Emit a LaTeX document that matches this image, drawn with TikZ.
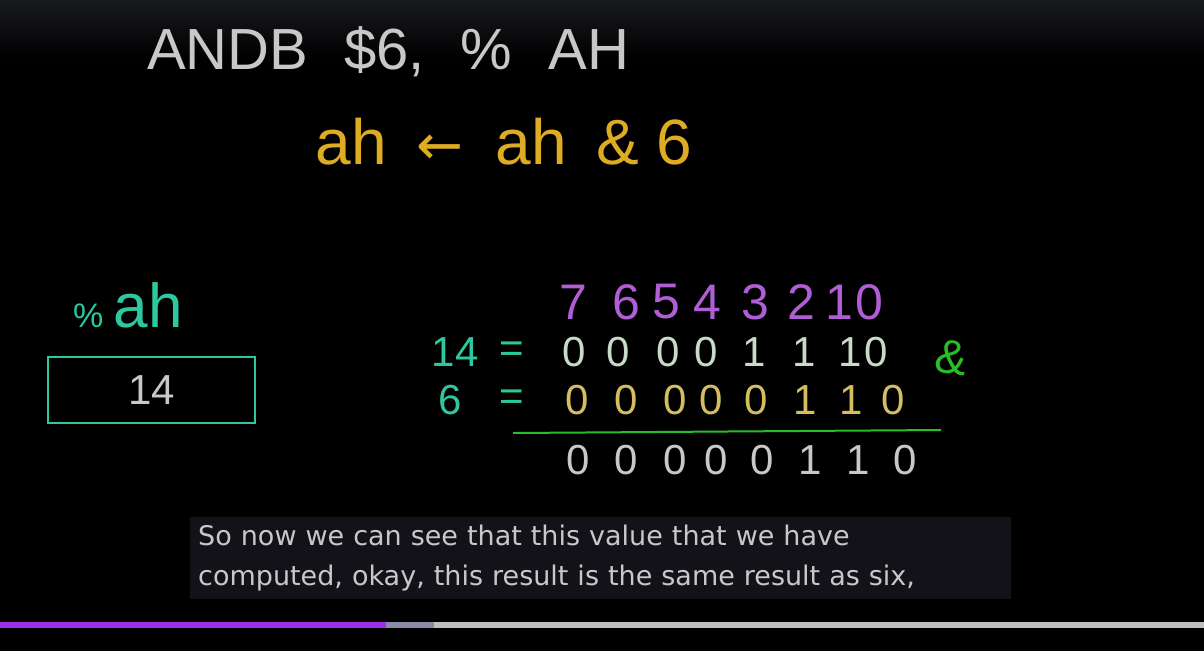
\documentclass[tikz,border=0pt]{standalone}
\usepackage{fontspec}
\setmainfont{DejaVu Sans}
\newfontfamily\handfont{Liberation Sans}
\newfontfamily\arrowfont{DejaVu Sans}
\definecolor{boardtop}{RGB}{24,25,30}
\definecolor{chalkwhite}{RGB}{200,200,200}
\definecolor{chalkyellow}{RGB}{222,172,34}
\definecolor{bityellow}{RGB}{214,190,96}
\definecolor{chalkteal}{RGB}{46,200,160}
\definecolor{chalkpurple}{RGB}{176,94,214}
\definecolor{chalkgreen}{RGB}{40,190,40}
\definecolor{bitgray}{RGB}{200,218,200}
\definecolor{capbg}{RGB}{18,18,24}
\definecolor{captext}{RGB}{200,200,200}
\definecolor{barpurple}{RGB}{155,48,232}
\definecolor{barslate}{RGB}{138,138,168}
\definecolor{barrest}{RGB}{190,190,190}
\usetikzlibrary{positioning}

\begin{document}
\begin{tikzpicture}[x=1pt, y=-1pt,
  hand/.style={inner sep=0pt, font=\handfont\fontsize{#1}{#1}\selectfont},
  bitidx/.style={hand=50, text=chalkpurple},
  bitrow/.style={hand=42, text=#1}
]
  % board
  \fill[black] (0,0) rectangle (1204,651);
  \shade[top color=boardtop, bottom color=black] (0,0) rectangle (1204,60);

  % instruction
  \node[hand=58, text=chalkwhite] (instr) at (388,52) {ANDB\hspace{36pt}\$6,\hspace{36pt}\%\hspace{36pt}AH};
  \node[hand=64, text=chalkyellow] (effect) at (504,142)
    {ah\hspace{30pt}{\arrowfont\fontsize{56}{56}\selectfont ←}\hspace{32pt}ah\hspace{30pt}\&\hspace{17pt}6};

  % register
  \node[hand=62, text=chalkteal] (regname) at (128,305) {{\fontsize{34}{34}\selectfont\%}\,ah};
  \node[draw=chalkteal, line width=2pt, minimum width=207, minimum height=66, inner sep=0pt,
        hand=42, text=chalkwhite] (regbox) at (151.5,390) {14};

  % bit positions
  \foreach \n/\x in {7/573,6/626,5/666,4/707,3/755,2/801,1/839,0/869}
    \node[bitidx] (idx\n) at (\x,302) {\n};

  % operands
  \node[hand=42, text=chalkteal] (lhsA) at (455,352) {14};
  \node[hand=42, text=chalkteal] (eqA) at (512,352) {=};
  \foreach \b/\x [count=\i] in {0/574,0/618,0/668,0/706,1/754,1/804,1/850,0/876}
    \node[bitrow=bitgray] (a\i) at (\x,352) {\b};
  \node[hand=48, text=chalkgreen, rotate=-8] (andop) at (952,358) {\&};

  \node[hand=42, text=chalkteal] (lhsB) at (450,400) {6};
  \node[hand=42, text=chalkteal] (eqB) at (512,400) {=};
  \foreach \b/\x [count=\i] in {0/577,0/626,0/675,0/711,0/756,1/805,1/851,0/893}
    \node[bitrow=bityellow] (b\i) at (\x,400) {\b};

  \coordinate (sumL) at (513,433);
  \coordinate (sumR) at (941,430);
  \draw[chalkgreen, line width=2pt] (sumL) -- (sumR);

  % result
  \foreach \b/\x [count=\i] in {0/578,0/626,0/675,0/716,0/762,1/810,1/858,0/905}
    \node[bitrow=chalkwhite] (r\i) at (\x,460) {\b};

  % caption
  \node[anchor=north west, fill=capbg, text=captext, text width=805pt, align=left,
        inner xsep=8pt, inner ysep=8pt, font=\fontsize{27}{40}\selectfont] (caption) at (190,517)
    {So now we can see that this value that we have\\computed, okay, this result is the same result as six,};

  % progress bar
  \fill[barpurple] (0,622) rectangle (386,628);
  \fill[barslate] (386,622) rectangle (434,628);
  \fill[barrest] (434,622) rectangle (1204,628);
\end{tikzpicture}
\end{document}
